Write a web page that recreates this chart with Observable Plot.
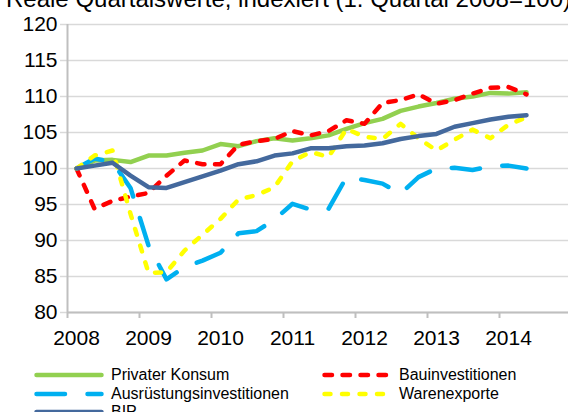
<!DOCTYPE html>
<html><head><meta charset="utf-8">
<script src="https://cdn.jsdelivr.net/npm/d3@7"></script>
<script src="https://cdn.jsdelivr.net/npm/@observablehq/plot@0.6"></script>
<style>
body{margin:0;background:#fff;}
#wrap{position:relative;width:568px;height:412px;overflow:hidden;font-family:"Liberation Sans",Arial,sans-serif;background:#fff;}
#title{position:absolute;left:6px;top:-13px;font-size:24px;line-height:24px;white-space:nowrap;color:#000;}
#chart{position:absolute;left:0;top:0;}
.leg{position:absolute;display:flex;align-items:center;font-size:16px;height:20px;white-space:nowrap;color:#000;}
.leg svg{margin-right:7px;}
</style></head><body>
<div id="wrap"><div id="chart"></div><div id="title">Reale Quartalswerte, indexiert (1. Quartal 2008=100)</div><div id="legend"></div></div>
<script>
const periods = ["2008Q1","2008Q2","2008Q3","2008Q4","2009Q1","2009Q2","2009Q3","2009Q4","2010Q1","2010Q2","2010Q3","2010Q4","2011Q1","2011Q2","2011Q3","2011Q4","2012Q1","2012Q2","2012Q3","2012Q4","2013Q1","2013Q2","2013Q3","2013Q4","2014Q1","2014Q2"];
const yearLabels = ["2008","2009","2010","2011","2012","2013","2014"];
const yTicks = [80,85,90,95,100,105,110,115,120];

const privaterKonsum   = [100,101.1,101.2,100.9,101.8,101.8,102.2,102.5,103.4,103.1,103.8,104.2,103.9,104.2,104.6,105.5,106.3,106.9,108.0,108.6,109.1,109.7,110.0,110.5,110.4,110.6];
const bauinvestitionen = [100,94.4,95.5,96.1,96.6,99.0,101.1,100.6,100.6,103.3,103.8,104.1,105.2,104.6,105.2,106.7,106.2,109.1,109.5,110.3,109.0,109.5,110.4,111.2,111.3,110.3];
const ausruestung      = [100,101.4,100.9,97.3,89.3,84.6,86.3,87.2,88.3,91.0,91.3,92.9,95.1,94.3,94.4,98.8,98.4,97.9,96.5,98.8,100.0,100.1,99.8,100.3,100.4,100.0];
const warenexporte     = [100,101.8,102.5,93.7,85.5,85.6,88.6,90.8,93.0,95.7,96.3,97.4,101.0,102.3,101.6,105.5,104.4,104.1,106.2,104.2,102.5,104.0,105.4,104.2,106.1,107.1];
const bip              = [100,100.4,100.8,99.0,97.4,97.3,98.1,98.9,99.7,100.6,101.0,101.8,102.1,102.8,102.8,103.1,103.2,103.5,104.1,104.5,104.8,105.8,106.3,106.8,107.2,107.4];

const seriesNames  = ["Privater Konsum","Bauinvestitionen","Ausrüstungsinvestitionen","Warenexporte","BIP"];
const seriesValues = [privaterKonsum,bauinvestitionen,ausruestung,warenexporte,bip];
const seriesColors = ["#92D050","#FF0000","#00B0F0","#FFFF00","#44699D"];
const seriesDash   = [null,"7.5,10.5","28.5,22.5","6,11.5",null];
const lineW = 4.5;

const rows = [];
seriesValues.forEach((vals,k)=>vals.forEach((v,i)=>rows.push({i,v,k,period:periods[i]})));

const yearPos = periods.map((p,i)=>p.endsWith("Q1")?i:null).filter(d=>d!==null);
const boundaries = yearPos.map(i=>i-0.5);

const marks = [
  Plot.gridY(yTicks,{stroke:"#D9D9D9",strokeOpacity:1,strokeWidth:1.5}),
  Plot.axisY(yTicks,{tickSize:7,tickPadding:3,stroke:"#D9D9D9",strokeWidth:1.5,fontSize:21,tickFormat:d=>String(d)}),
  Plot.ruleX([-0.5],{stroke:"#BFBFBF",strokeWidth:2}),
  Plot.ruleY([80],{stroke:"#BFBFBF",strokeWidth:2}),
  Plot.axisX(boundaries,{tickSize:6,tickFormat:()=>"",stroke:"#BFBFBF",strokeWidth:2}),
  Plot.axisX(yearPos,{tickSize:0,tickPadding:18,fontSize:21,tickFormat:i=>yearLabels[yearPos.indexOf(i)]})
];
seriesNames.forEach((name,k)=>{
  marks.push(Plot.line(rows.filter(r=>r.k===k),{x:"i",y:"v",stroke:seriesColors[k],strokeWidth:lineW,
    strokeDasharray:seriesDash[k]||undefined,strokeLinecap:"round",strokeLinejoin:"round"}));
});

const chart = Plot.plot({
  width:568,height:360,marginTop:24,marginBottom:48,marginLeft:67,marginRight:0,
  style:{fontFamily:"'Liberation Sans',Arial,sans-serif",background:"transparent",overflow:"visible",color:"#000"},
  x:{type:"linear",domain:[-0.5,27.333],label:null},
  y:{domain:[80,120],label:null},
  marks
});
document.getElementById("chart").appendChild(chart);

// legend
const legPos = [[34,375],[322,375],[34,393.5],[322,393.5],[34,412]];
const legend = document.getElementById("legend");
seriesNames.forEach((name,k)=>{
  const d = document.createElement("div");
  d.className="leg";
  d.style.left = legPos[k][0]+"px";
  d.style.top = (legPos[k][1]-10)+"px";
  const dash = seriesDash[k] ? `stroke-dasharray="${seriesDash[k]}"` : "";
  d.innerHTML = `<svg width="70" height="8"><line x1="2.5" y1="4" x2="67.5" y2="4" stroke="${seriesColors[k]}" stroke-width="${lineW}" stroke-linecap="round" ${dash}/></svg><span>${name}</span>`;
  legend.appendChild(d);
});
</script>
</body></html>
